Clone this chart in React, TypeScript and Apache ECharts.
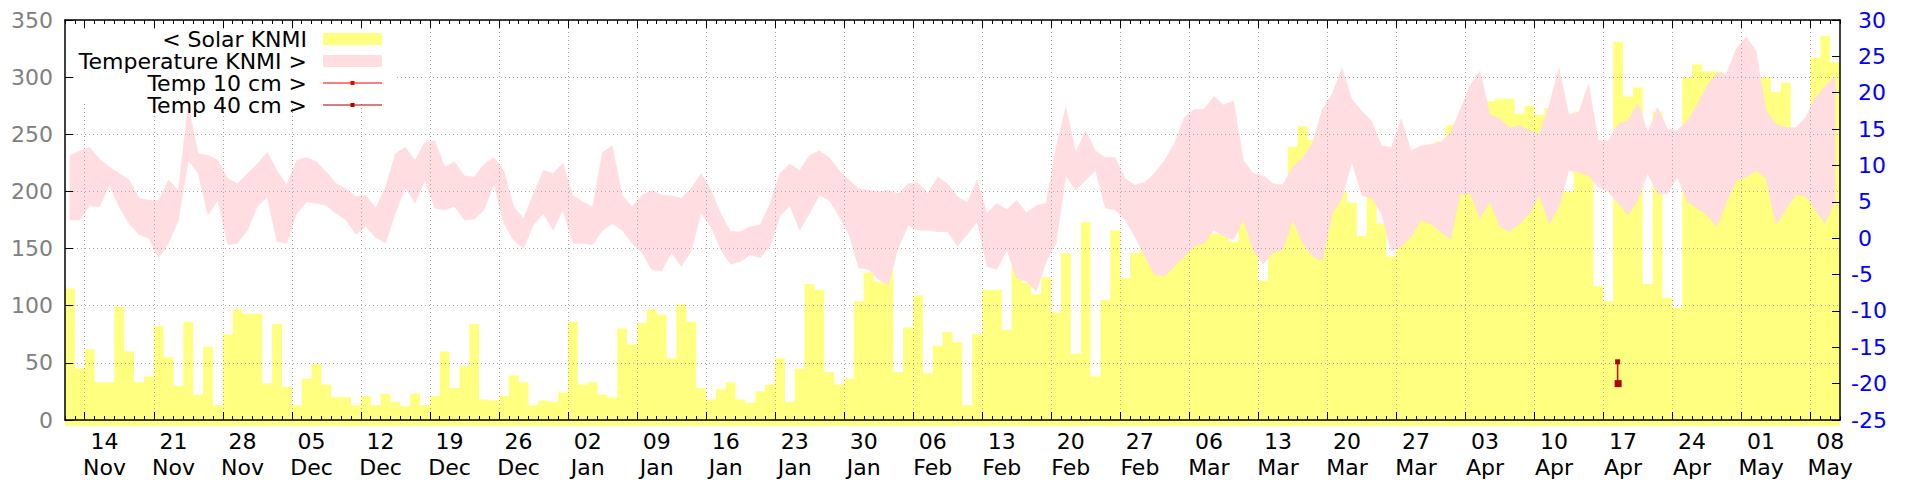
import React, { useEffect, useRef } from "react";
import * as echarts from "echarts";

// Daily solar radiation (left axis), day 0 = left edge of the plot
const solar = [
  115, 45, 62, 33, 33, 99, 60, 33, 38, 82,
  55, 30, 86, 22, 64, 13, 75, 97, 93, 93,
  32, 84, 29, 13, 36, 49, 31, 20, 20, 13,
  21, 13, 23, 16, 12, 23, 13, 21, 60, 28,
  47, 84, 18, 17, 21, 39, 33, 13, 17, 16,
  24, 86, 31, 33, 22, 20, 80, 66, 85, 97,
  92, 54, 101, 86, 28, 18, 27, 33, 18, 15,
  25, 31, 54, 16, 45, 119, 114, 42, 31, 36,
  104, 129, 121, 132, 42, 81, 109, 41, 65, 77,
  68, 13, 75, 114, 114, 79, 143, 120, 110, 125,
  94, 146, 58, 173, 38, 105, 166, 124, 146, 152,
  155, 150, 155, 160, 168, 178, 163, 163, 156, 183,
  215, 122, 206, 206, 239, 257, 245, 230, 210, 200,
  190, 161, 200, 172, 143, 200, 190, 200, 210, 244,
  258, 250, 260, 270, 279, 281, 281, 268, 275, 267,
  273, 280, 200, 270, 250, 117, 104, 331, 283, 291,
  119, 270, 107, 98, 300, 311, 305, 305, 300, 290,
  290, 290, 300, 287, 295, 245, 255, 317, 336, 313,
];

// Daily max / min air temperature (right axis)
const tempMax = [
  11.4, 12.0, 12.5, 10.9, 9.8, 8.9, 8.0, 5.5, 5.2, 5.2,
  8.0, 6.6, 18.4, 11.6, 11.4, 10.7, 8.2, 7.5, 8.9, 10.2,
  11.8, 9.3, 7.3, 10.7, 11.1, 10.5, 9.1, 7.5, 6.8, 5.7,
  5.9, 4.1, 7.0, 11.6, 12.5, 10.7, 13.2, 13.4, 9.8, 10.5,
  8.6, 8.4, 10.2, 11.1, 9.3, 4.3, 2.7, 6.1, 9.3, 8.9,
  10.3, 5.9, 5.0, 4.3, 11.8, 12.7, 5.9, 4.3, 5.9, 6.6,
  5.9, 5.8, 5.5, 6.8, 8.9, 6.6, 3.4, 0.9, 0.9, 1.6,
  1.8, 4.8, 8.9, 10.2, 9.3, 11.4, 12.0, 11.1, 9.3, 8.0,
  6.8, 6.6, 6.4, 6.6, 6.1, 7.5, 7.6, 6.1, 8.4, 7.5,
  5.7, 4.9, 8.0, 3.4, 4.8, 3.9, 5.2, 3.5, 4.5, 4.8,
  12.5, 18.0, 11.8, 14.8, 12.0, 11.1, 11.1, 8.2, 7.3, 7.7,
  8.9, 10.7, 13.0, 16.6, 17.7, 17.7, 19.5, 18.3, 18.9, 10.7,
  8.9, 8.6, 7.5, 7.3, 9.8, 11.1, 13.0, 17.7, 19.8, 23.4,
  19.1, 17.5, 16.1, 12.7, 12.5, 16.4, 12.0, 12.7, 12.9, 13.2,
  14.5, 17.7, 21.1, 23.0, 17.0, 16.4, 15.2, 15.5, 14.8, 14.3,
  18.2, 23.4, 17.0, 17.3, 21.2, 13.4, 13.4, 15.7, 16.1, 18.6,
  14.5, 18.0, 15.0, 14.8, 16.1, 18.3, 20.9, 22.7, 22.6, 26.1,
  27.7, 25.7, 17.5, 15.7, 15.2, 15.2, 16.6, 19.3, 20.9, 22.3,
];

const tempMin = [
  2.5, 2.5, 4.5, 4.3, 7.3, 4.3, 2.0, 0.5, 0.0, -2.7,
  -0.7, 2.5, 10.7, 8.9, 3.2, 5.2, -0.9, -0.7, 1.1, 4.3,
  5.7, -0.5, -0.7, 3.4, 5.0, 4.8, 4.5, 3.4, 2.5, 0.5,
  1.6, 0.1, -0.7, 3.4, 7.0, 4.8, 8.0, 4.1, 3.9, 4.4,
  2.5, 2.6, 3.9, 7.5, 2.0, -0.3, -1.4, 1.8, 3.4, 1.1,
  3.9, -0.7, -0.7, -0.9, 1.1, 2.0, 1.1, -0.7, -2.0, -4.3,
  -4.5, -2.0, -3.9, -1.8, 3.4, 1.6, -1.6, -3.6, -3.2, -2.3,
  -2.7, -1.1, 3.0, 4.5, 1.1, 3.4, 5.9, 5.2, 3.0, 0.5,
  -4.1, -4.3, -5.7, -6.4, -1.4, 1.8, 1.1, 1.1, 0.9, 0.9,
  -1.1, 0.5, 2.3, -3.9, -4.3, -1.6, -5.5, -5.9, -7.3, -3.2,
  -0.7, 8.6, 6.6, 8.0, 9.3, 4.1, 3.9, 2.5, 0.2, -2.5,
  -5.0, -5.2, -3.9, -2.5, -1.1, -0.7, 1.1, 0.3, -0.2, 2.5,
  -1.7, -3.6, -2.0, -1.6, 2.5, -0.7, -2.5, -3.1, 3.4, 5.5,
  10.5, 5.9, 5.5, 3.4, -1.8, -1.1, 0.2, 2.5, 2.0, 0.9,
  -0.2, 6.1, 6.1, 2.7, 5.0, 1.6, 0.9, 2.0, 3.4, 5.9,
  2.0, 4.3, 9.3, 9.1, 8.6, 7.0, 6.4, 4.8, 3.2, 5.2,
  8.9, 6.1, 6.1, 8.4, 5.1, 4.1, 3.2, 1.6, 5.0, 8.0,
  8.4, 9.3, 8.2, 1.8, 3.9, 6.0, 5.8, 3.9, 2.0, 5.2,
];

// Soil temperatures (only one reading pair)
const temp10cm = [
  [157.45, -17.0],
  [157.45, -20.0],
];
const temp40cm = [[157.5, -20.0]];

// X tick labels (one per week)
const tickLabels = [
  "14\nNov", "21\nNov", "28\nNov", "05\nDec", "12\nDec", "19\nDec", "26\nDec",
  "02\nJan", "09\nJan", "16\nJan", "23\nJan", "30\nJan", "06\nFeb", "13\nFeb",
  "20\nFeb", "27\nFeb", "06\nMar", "13\nMar", "20\nMar", "27\nMar", "03\nApr",
  "10\nApr", "17\nApr", "24\nApr", "01\nMay", "08\nMay",
];

const SERIES_NAMES = ["< Solar KNMI", "Temperature KNMI >", "Temp 10 cm >", "Temp 40 cm >"];

const NDAYS = solar.length; // 180
const labelDays = tickLabels.map((_, i) => 4 + 7 * i);
const gridDays = tickLabels.map((_, i) => 2 + 7 * i);
const allDays = Array.from({ length: NDAYS + 1 }, (_, i) => i);

const FONT = "DejaVu Sans";
const YELLOW = "#ffff80";
const PINK = "#ffdde0";

export default function App() {
  const ref = useRef<HTMLDivElement>(null);

  useEffect(() => {
    if (!ref.current) return;
    const chart = echarts.init(ref.current, null, { renderer: "svg" });

    const solarData = solar.map((v, i) => [i, v]);
    solarData.push([NDAYS, solar[NDAYS - 1]]);
    const bandData = tempMax.map((v, i) => [i + 0.5, v, tempMin[i]]);

    const xBase = {
      type: "value",
      min: 0,
      max: NDAYS,
      gridIndex: 0,
      z: 3,
      splitLine: { show: false },
      axisLabel: { show: false },
      axisLine: { show: false, onZero: false },
    };

    const option: any = {
      animation: false,
      backgroundColor: "#ffffff",
      textStyle: { fontFamily: FONT },
      grid: { left: 65, right: 80, top: 20, bottom: 57, containLabel: false },
      legend: {
        orient: "vertical",
        align: "right",
        right: 1920 - 382,
        top: 28,
        padding: 0,
        itemGap: 0,
        itemWidth: 59,
        itemHeight: 12,
        z: 6,
        selectedMode: false,
        data: [
          { name: SERIES_NAMES[0], icon: "rect", itemStyle: { color: YELLOW, borderWidth: 0 } },
          { name: SERIES_NAMES[1], icon: "rect", itemStyle: { color: PINK, borderWidth: 0 } },
          {
            name: SERIES_NAMES[2],
            icon: "path://M0,1.5L59,1.5L59,2.5L0,2.5Z M27.5,0L31.5,0L31.5,4L27.5,4Z",
            itemStyle: { color: "#ee0000", borderWidth: 0 },
          },
          {
            name: SERIES_NAMES[3],
            icon: "path://M0,1.5L59,1.5L59,2.5L0,2.5Z M27.5,0L31.5,0L31.5,4L27.5,4Z",
            itemStyle: { color: "#b00000", borderWidth: 0 },
          },
        ],
        formatter: (name: string) => `{a|${name}}`,
        textStyle: {
          rich: {
            a: {
              fontSize: 22,
              fontFamily: FONT,
              color: "#000000",
              lineHeight: 25,
              padding: [0, 11, 0, 0],
            },
          },
        },
      },
      graphic: [
        {
          type: "rect",
          shape: { x: 74, y: 29, width: 321, height: 74 },
          style: { fill: "#ffffff" },
          z: 4,
          silent: true,
        },
      ],
      xAxis: [
        {
          ...xBase,
          position: "bottom",
          axisLine: { show: true, onZero: false, lineStyle: { color: "#000", width: 1.5 } },
          axisTick: {
            show: true,
            inside: true,
            length: 4,
            customValues: allDays,
            lineStyle: { color: "#000", width: 1 },
          },
          axisLabel: {
            show: true,
            customValues: labelDays,
            margin: 8,
            fontSize: 22,
            lineHeight: 26,
            color: "#000",
            fontFamily: FONT,
            formatter: (v: number) => {
              const idx = labelDays.indexOf(Math.round(v));
              return idx >= 0 ? tickLabels[idx] : "";
            },
          },
        },
        {
          ...xBase,
          position: "bottom",
          axisTick: {
            show: true,
            inside: true,
            length: 8,
            customValues: gridDays,
            lineStyle: { color: "#000", width: 1 },
          },
        },
        {
          ...xBase,
          position: "top",
          axisLine: { show: true, onZero: false, lineStyle: { color: "#000", width: 1.5 } },
          axisTick: {
            show: true,
            inside: true,
            length: 4,
            customValues: allDays,
            lineStyle: { color: "#000", width: 1 },
          },
        },
        {
          ...xBase,
          position: "top",
          axisTick: {
            show: true,
            inside: true,
            length: 8,
            customValues: gridDays,
            lineStyle: { color: "#000", width: 1 },
          },
          splitLine: {
            show: true,
            lineStyle: { color: "#a8a8a8", width: 1, type: [1, 3] },
          },
        },
      ],
      yAxis: [
        {
          type: "value",
          position: "left",
          min: 0,
          max: 350,
          interval: 50,
          z: 3,
          axisLine: { show: true, onZero: false, lineStyle: { color: "#000", width: 1.5 } },
          axisTick: { show: true, inside: true, length: 8, lineStyle: { color: "#000" } },
          axisLabel: { margin: 12, fontSize: 22, color: "#808080", fontFamily: FONT },
          splitLine: { show: true, lineStyle: { color: "#a8a8a8", width: 1, type: [1, 3] } },
        },
        {
          type: "value",
          position: "right",
          min: -25,
          max: 30,
          interval: 5,
          z: 3,
          axisLine: { show: true, onZero: false, lineStyle: { color: "#000", width: 1.5 } },
          axisTick: { show: true, inside: true, length: 8, lineStyle: { color: "#000" } },
          axisLabel: {
            margin: 11,
            fontSize: 22,
            color: "#0000ff",
            fontFamily: FONT,
            formatter: (v: number) => (v >= 0 ? "\u00a0" + v : String(v)),
          },
          splitLine: { show: false },
        },
      ],
      series: [
        {
          name: SERIES_NAMES[0],
          type: "line",
          xAxisIndex: 0,
          yAxisIndex: 0,
          step: "end",
          data: solarData,
          symbol: "none",
          clip: false,
          color: YELLOW,
          lineStyle: { width: 0, color: YELLOW },
          areaStyle: { color: YELLOW, opacity: 1, origin: -5 },
          z: 1,
        },
        {
          name: SERIES_NAMES[1],
          type: "custom",
          xAxisIndex: 0,
          yAxisIndex: 1,
          data: bandData,
          encode: { x: 0, y: [1, 2] },
          color: PINK,
          itemStyle: { color: PINK },
          z: 2,
          silent: true,
          renderItem: (params: any, api: any) => {
            if (params.dataIndex !== 0) return null;
            const n = params.dataInsideLength;
            const upper: number[][] = [];
            const lower: number[][] = [];
            for (let j = 0; j < n; j++) {
              const x = api.value(0, j);
              upper.push(api.coord([x, api.value(1, j)]));
              lower.push(api.coord([x, api.value(2, j)]));
            }
            const points = upper.concat(lower.reverse());
            return {
              type: "polygon",
              shape: { points },
              style: { fill: PINK, stroke: PINK, lineWidth: 0.5 },
            };
          },
        },
        {
          name: SERIES_NAMES[2],
          type: "line",
          xAxisIndex: 0,
          yAxisIndex: 1,
          data: temp10cm,
          color: "#ee0000",
          symbol: "rect",
          symbolSize: 5,
          showSymbol: true,
          itemStyle: { color: "#b00000" },
          lineStyle: { color: "#dd0000", width: 1.5 },
          z: 5,
        },
        {
          name: SERIES_NAMES[3],
          type: "line",
          xAxisIndex: 0,
          yAxisIndex: 1,
          data: temp40cm,
          color: "#b00000",
          symbol: "rect",
          symbolSize: 7,
          showSymbol: true,
          itemStyle: { color: "#b00000" },
          lineStyle: { color: "#b00000", width: 1.5 },
          z: 5,
        },
      ],
    };

    chart.setOption(option);
    return () => chart.dispose();
  }, []);

  return (
    <div
      ref={ref}
      style={{ position: "fixed", left: 0, top: 0, width: "1920px", height: "480px", background: "#fff" }}
    />
  );
}
